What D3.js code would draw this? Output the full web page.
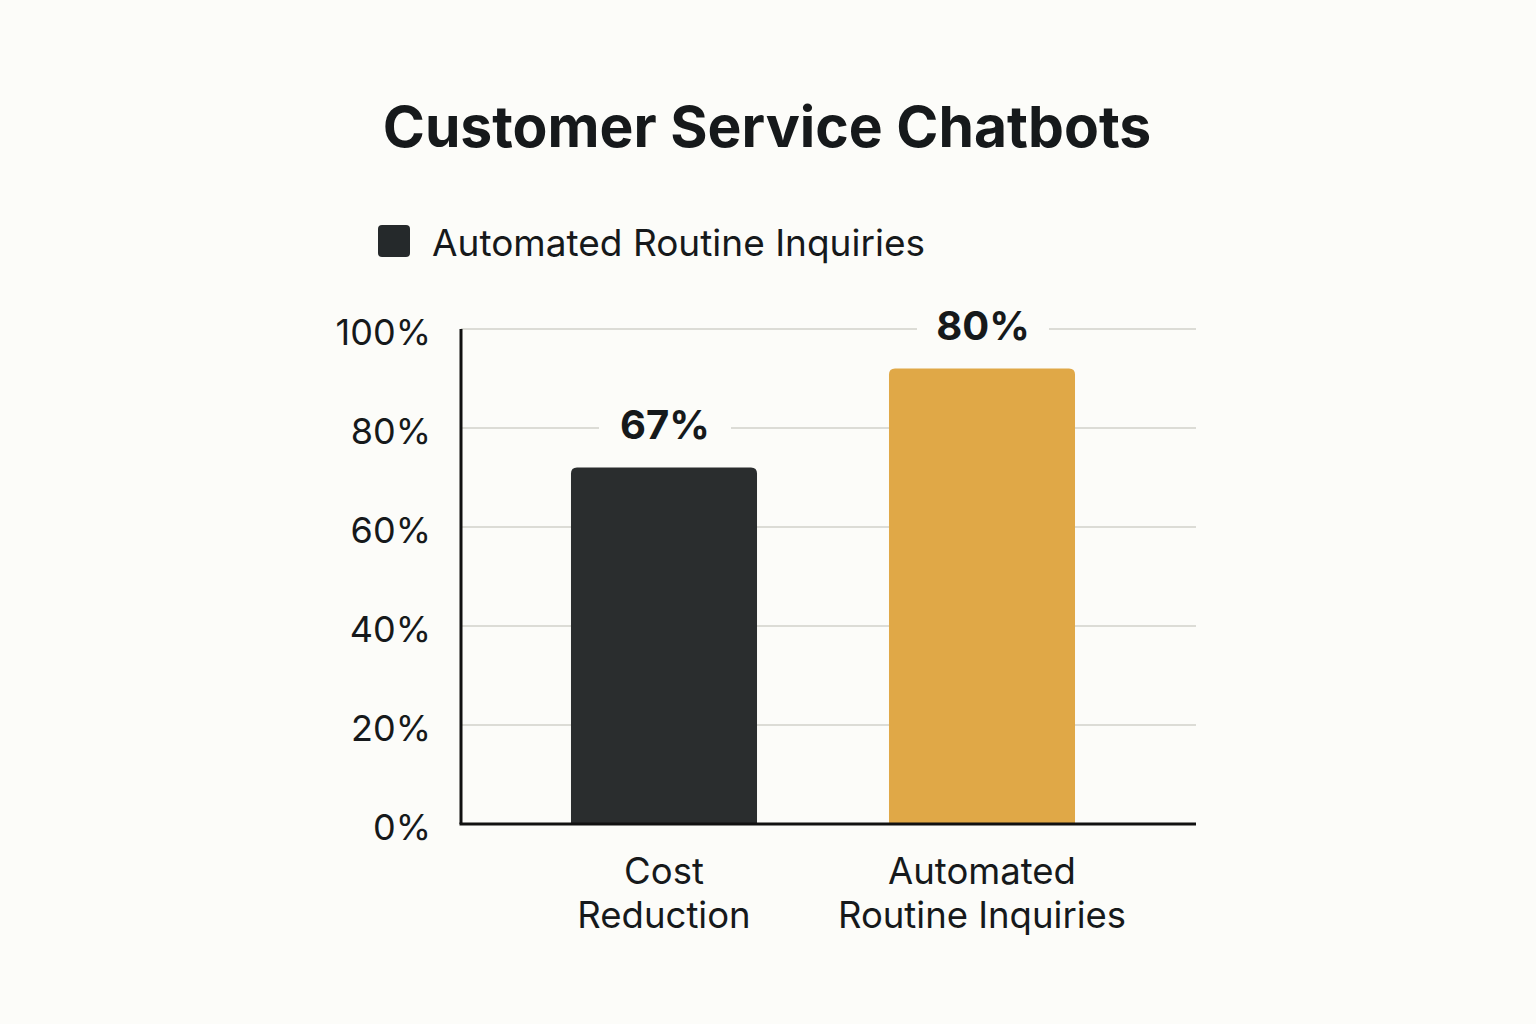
<!DOCTYPE html>
<html>
<head>
<meta charset="utf-8">
<script src="https://cdn.jsdelivr.net/npm/d3@7"></script>
<style>
  html, body { margin: 0; padding: 0; background: #fcfcf9; }
  svg { display: block; }
  text { font-family: Inter, "Noto Sans", sans-serif; fill: #16191b; }
</style>
</head>
<body>
<svg id="chart" width="1536" height="1024"></svg>
<script>
// bar heights as drawn in the picture (percent)
var categories = ['Cost Reduction', 'Automated Routine Inquiries'];
var categoryLines = [['Cost', 'Reduction'], ['Automated', 'Routine Inquiries']];
var barValues = [72, 92];
// printed labels above the bars
var valueLabels = ['67%', '80%'];
var barColors = ['#2a2d2e', '#e0a847'];
var yTicks = [0, 20, 40, 60, 80, 100];
var legendLabel = 'Automated Routine Inquiries';
var title = 'Customer Service Chatbots';

var svg = d3.select('#chart');
var plotLeft = 461, plotRight = 1196, plotTop = 329, plotBottom = 824;

var y = d3.scaleLinear().domain([0, 100]).range([plotBottom, plotTop]);
var x = d3.scaleBand().domain(categories).range([505, 1141]).padding(0);
var barWidth = x.bandwidth() * 0.585;

// title
svg.append('text')
    .attr('x', 767)
    .attr('y', 147)
    .attr('text-anchor', 'middle')
    .style('font-size', '57px')
    .style('font-weight', 700)
    .text(title);

// legend
svg.append('rect')
    .attr('x', 378).attr('y', 225)
    .attr('width', 32).attr('height', 32)
    .attr('rx', 4)
    .attr('fill', '#25292b');
svg.append('text')
    .attr('x', 432).attr('y', 256)
    .style('font-size', '37px')
    .text(legendLabel);

// gridlines
svg.append('g')
    .selectAll('line')
    .data(yTicks.filter(function (d) { return d > 0; }))
    .enter().append('line')
    .attr('x1', plotLeft).attr('x2', plotRight)
    .attr('y1', function (d) { return y(d); })
    .attr('y2', function (d) { return y(d); })
    .attr('stroke', '#dcdcd6')
    .attr('stroke-width', 2);

// y axis tick labels
var yAxis = svg.append('g')
    .attr('transform', 'translate(' + 431 + ',0)')
    .call(d3.axisLeft(y).tickValues(yTicks).tickSize(0).tickPadding(0)
        .tickFormat(function (d) { return d + '%'; }));
yAxis.select('.domain').remove();
yAxis.selectAll('text')
    .attr('dy', '0.42em')
    .style('font-size', '36px')
    .style('font-family', 'Inter, "Noto Sans", sans-serif')
    .attr('fill', '#16191b');

// bars with rounded tops
function barPath(x0, w, yTop, yBot, r) {
    return 'M' + x0 + ',' + yBot +
        'V' + (yTop + r) +
        'Q' + x0 + ',' + yTop + ' ' + (x0 + r) + ',' + yTop +
        'H' + (x0 + w - r) +
        'Q' + (x0 + w) + ',' + yTop + ' ' + (x0 + w) + ',' + (yTop + r) +
        'V' + yBot + 'Z';
}

svg.append('g')
    .selectAll('path')
    .data(categories)
    .enter().append('path')
    .attr('d', function (d, i) {
        var cx = x(d) + x.bandwidth() / 2;
        return barPath(cx - barWidth / 2, barWidth, y(barValues[i]), plotBottom, 6);
    })
    .attr('fill', function (d, i) { return barColors[i]; });

// value labels, with a background patch breaking the gridline
var labels = svg.append('g')
    .selectAll('g')
    .data(categories)
    .enter().append('g')
    .attr('transform', function (d, i) {
        return 'translate(' + (x(d) + x.bandwidth() / 2 + 1) + ',' + (y(barValues[i]) - 43) + ')';
    });
labels.append('rect')
    .attr('x', -66).attr('y', -26)
    .attr('width', 132).attr('height', 52)
    .attr('fill', '#fcfcf9');
labels.append('text')
    .attr('text-anchor', 'middle')
    .attr('dy', '0.36em')
    .style('font-size', '40px')
    .style('font-weight', 700)
    .text(function (d, i) { return valueLabels[i]; });

// axis lines
svg.append('line')
    .attr('x1', plotLeft).attr('x2', plotLeft)
    .attr('y1', plotTop).attr('y2', plotBottom)
    .attr('stroke', '#111').attr('stroke-width', 3);
svg.append('line')
    .attr('x1', plotLeft - 1.5).attr('x2', plotRight)
    .attr('y1', plotBottom).attr('y2', plotBottom)
    .attr('stroke', '#111').attr('stroke-width', 3);

// category labels
svg.append('g')
    .selectAll('text')
    .data(categories)
    .enter().append('text')
    .attr('text-anchor', 'middle')
    .attr('x', function (d) { return x(d) + x.bandwidth() / 2; })
    .attr('y', 884)
    .style('font-size', '36.5px')
    .each(function (d, i) {
        var t = d3.select(this);
        categoryLines[i].forEach(function (line, j) {
            t.append('tspan')
                .attr('x', x(d) + x.bandwidth() / 2)
                .attr('dy', j === 0 ? 0 : 44)
                .text(line);
        });
    });
</script>
</body>
</html>
